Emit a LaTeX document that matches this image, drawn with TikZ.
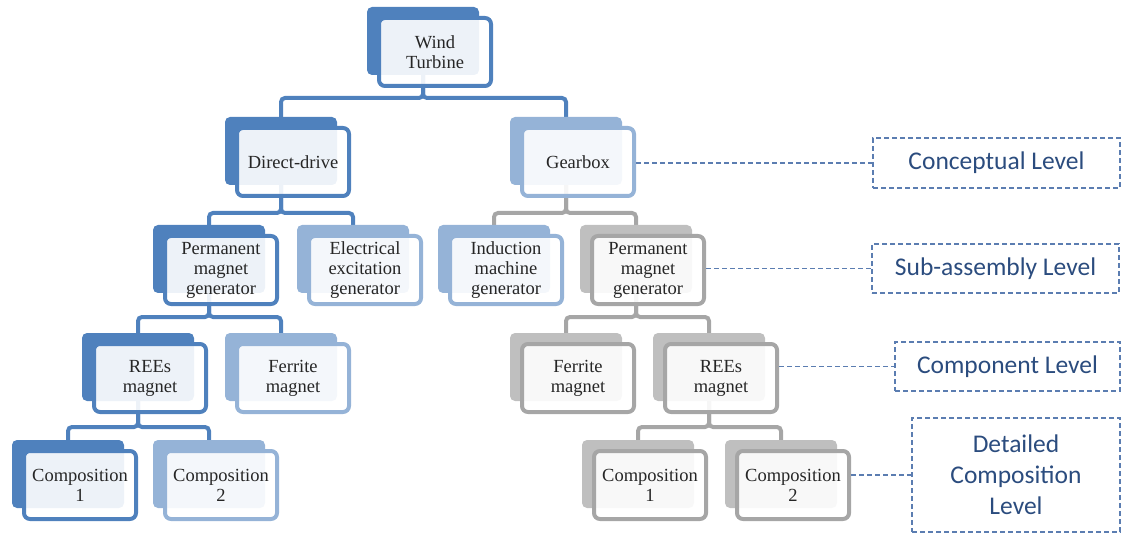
\documentclass[tikz,border=0pt]{standalone}
\usepackage{fontspec}
\setmainfont{Liberation Serif}
\newfontfamily\lvlfont{Carlito}
\usetikzlibrary{backgrounds}
\definecolor{cDark}{HTML}{4F81BD}
\definecolor{cLight}{HTML}{95B3D7}
\definecolor{cGrayB}{HTML}{BFBFBF}
\definecolor{cGrayF}{HTML}{A6A6A6}
\definecolor{cDash}{HTML}{5B7DB1}
\definecolor{cText}{HTML}{2B4C7E}
\begin{document}
\begin{tikzpicture}[x=1pt, y=1pt, yscale=-1,
	back/.style={rectangle, rounded corners=5, fill=#1, minimum width=112, minimum height=68, inner sep=0pt},
	front/.style={rectangle, rounded corners=6, draw=#1, line width=4, fill=white, fill opacity=.9, text opacity=1, minimum width=112, minimum height=68, inner sep=2pt, align=center, text=black!85, font=\fontsize{18.5}{20}\selectfont},
	dline/.style={draw=cDark, line width=4, rounded corners=4},
	gline/.style={draw=cGrayF, line width=4, rounded corners=4},
	lvl/.style={rectangle, draw=cDash, dash pattern=on 5pt off 3pt, line width=1.5, text=cText, align=center, inner sep=0pt, font=\lvlfont\fontsize{25.5}{31}\selectfont},
	lvline/.style={draw=cDash, dash pattern=on 5pt off 3pt, line width=1.5}]
\useasboundingbox (0,0) rectangle (1123,534);

% back plates
\node[back=cDark] (wt-b) at (423,41) {};
\node[back=cDark] (dd-b) at (281,151) {};
\node[back=cLight] (gb-b) at (566,151) {};
\node[back=cDark] (pmg1-b) at (209,259) {};
\node[back=cLight] (eeg-b) at (353,259) {};
\node[back=cLight] (img-b) at (494,259) {};
\node[back=cGrayB] (pmg2-b) at (636,259) {};
\node[back=cDark] (rees1-b) at (138,367) {};
\node[back=cLight] (fer1-b) at (281,367) {};
\node[back=cGrayB] (fer2-b) at (566,367) {};
\node[back=cGrayB] (rees2-b) at (709,367) {};
\node[back=cDark] (c11-b) at (68,474) {};
\node[back=cLight] (c12-b) at (209,474) {};
\node[back=cGrayB] (c21-b) at (638,474) {};
\node[back=cGrayB] (c22-b) at (781,474) {};

% front boxes
\node[front=cDark] (wt) at (435,52) {Wind\\Turbine};
\node[front=cDark] (dd) at (293,162) {Direct-drive};
\node[front=cLight] (gb) at (578,162) {Gearbox};
\node[front=cDark] (pmg1) at (221,270) {Permanent\\magnet\\generator};
\node[front=cLight] (eeg) at (365,270) {Electrical\\excitation\\generator};
\node[front=cLight] (img) at (506,270) {Induction\\machine\\generator};
\node[front=cGrayF] (pmg2) at (648,270) {Permanent\\magnet\\generator};
\node[front=cDark] (rees1) at (150,378) {REEs\\magnet};
\node[front=cLight] (fer1) at (293,378) {Ferrite\\magnet};
\node[front=cGrayF] (fer2) at (578,378) {Ferrite\\magnet};
\node[front=cGrayF] (rees2) at (721,378) {REEs\\magnet};
\node[front=cDark] (c11) at (80,485) {Composition\\1};
\node[front=cLight] (c12) at (221,485) {Composition\\2};
\node[front=cGrayF] (c21) at (650,485) {Composition\\1};
\node[front=cGrayF] (c22) at (793,485) {Composition\\2};

% tree connectors
\begin{scope}[on background layer]
	\draw[dline] (wt-b) -- ++(0,57) -| (dd-b.north);
	\draw[dline] (wt-b) -- ++(0,57) -| (gb-b.north);
	\draw[dline] (dd-b) -- ++(0,62) -| (pmg1-b.north);
	\draw[dline] (dd-b) -- ++(0,62) -| (eeg-b.north);
	\draw[gline] (gb-b) -- ++(0,62) -| (img-b.north);
	\draw[gline] (gb-b) -- ++(0,62) -| (pmg2-b.north);
	\draw[dline] (pmg1-b) -- ++(0,58) -| (rees1-b.north);
	\draw[dline] (pmg1-b) -- ++(0,58) -| (fer1-b.north);
	\draw[gline] (pmg2-b) -- ++(0,58) -| (fer2-b.north);
	\draw[gline] (pmg2-b) -- ++(0,58) -| (rees2-b.north);
	\draw[dline] (rees1-b) -- ++(0,60) -| (c11-b.north);
	\draw[dline] (rees1-b) -- ++(0,60) -| (c12-b.north);
	\draw[gline] (rees2-b) -- ++(0,60) -| (c21-b.north);
	\draw[gline] (rees2-b) -- ++(0,60) -| (c22-b.north);
\end{scope}

% level labels
\node[lvl, minimum width=247, minimum height=50] (lv1) at (996.5,163) {Conceptual Level};
\node[lvl, minimum width=247, minimum height=49] (lv2) at (995.5,268.5) {Sub-assembly Level};
\node[lvl, minimum width=225, minimum height=49] (lv3) at (1007.5,366.5) {Component Level};
\node[lvl, minimum width=208, minimum height=114] (lv4) at (1016,475) {Detailed\\Composition\\Level};

\draw[lvline] (lv1.west -| gb.east) -- (lv1.west);
\draw[lvline] (lv2.west -| pmg2.east) -- (lv2.west);
\draw[lvline] (lv3.west -| rees2.east) -- (lv3.west);
\draw[lvline] (lv4.west -| c22.east) -- (lv4.west);
\end{tikzpicture}
\end{document}
